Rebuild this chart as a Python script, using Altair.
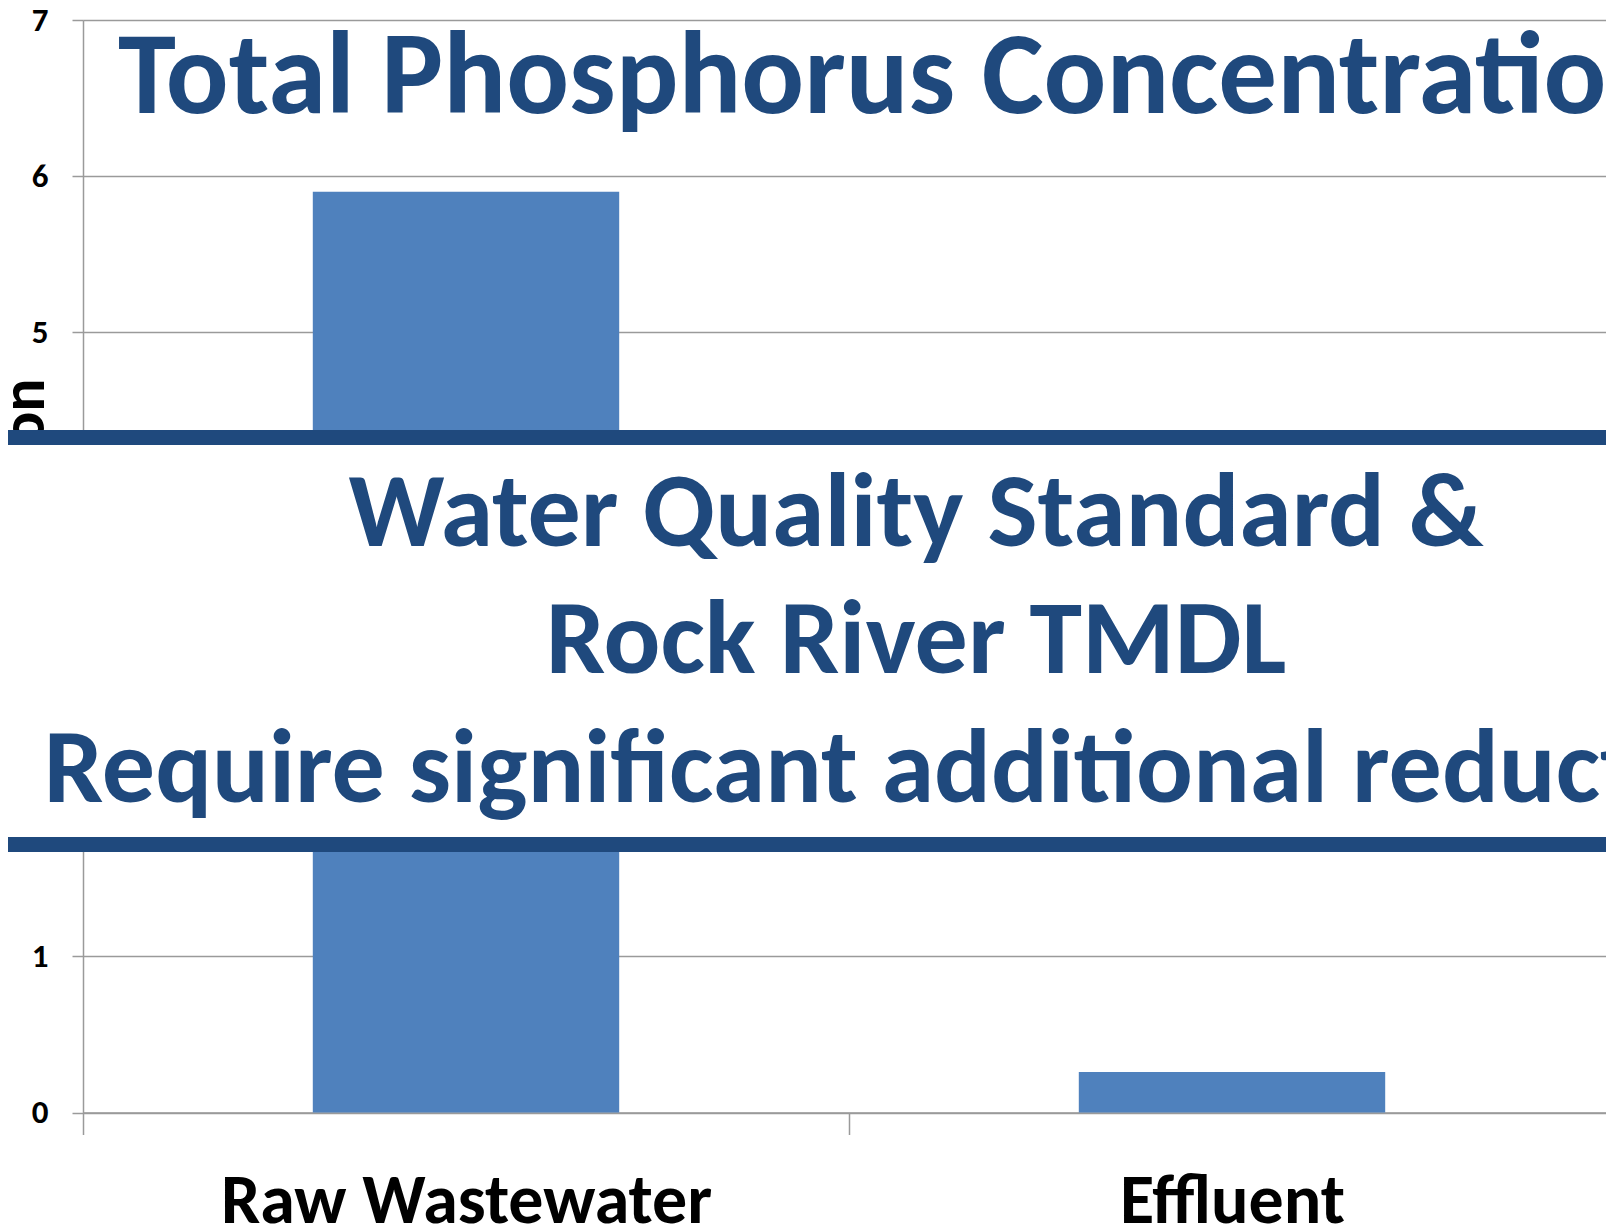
import altair as alt
import pandas as pd

# ---- data ----
categories = ["Raw Wastewater", "Effluent"]
values = [5.9, 0.26]
y_ticks = [0, 1, 2, 3, 4, 5, 6, 7]
y_title = "Concentration"
headline = ["Total Phosphorus Concentration"]
box_lines = ["Water Quality Standard &", "Rock River TMDL",
             "Require significant additional reductions"]

FONT = "Calibri, Carlito, Lato, sans-serif"
DARK = "#1F497D"
BAR = "#4F81BD"
GRID = "#9a9a9a"

df = pd.DataFrame({"category": categories, "value": values})

x = alt.X(
    "category:N", sort=categories,
    scale=alt.Scale(range=[0, 1532], paddingInner=0, paddingOuter=0),
    axis=alt.Axis(title=None, labelAngle=0, labelFont=FONT, labelFontSize=70,
                  labelFontWeight="bold", labelColor="black", labelLimit=2000,
                  labelBaseline="alphabetic", labelPadding=88,
                  tickBand="extent", tickSize=22, tickColor=GRID, tickWidth=1.5,
                  domainColor=GRID, domainWidth=1.5, grid=False),
)
y = alt.Y(
    "value:Q", scale=alt.Scale(domain=[0, 7], nice=False),
    axis=alt.Axis(values=y_ticks, format="d", title=y_title,
                  labelFont=FONT, labelFontSize=33, labelFontWeight="bold",
                  labelColor="black", labelPadding=24,
                  tickSize=11, tickColor=GRID, tickWidth=1.5,
                  domainColor=GRID, domainWidth=1.5,
                  gridColor=GRID, gridWidth=1.5,
                  titleFont=FONT, titleFontSize=62, titleFontWeight="bold",
                  titleColor="black", titleAngle=270, titleAlign="right",
                  titleBaseline="alphabetic", titleX=-40, titleY=358),
)

bars = alt.Chart(df).mark_bar(color=BAR, width=alt.RelativeBandSize(0.4)).encode(x=x, y=y)

one = pd.DataFrame({"k": [0]})
white_box = alt.Chart(one).mark_rect(color="white").encode(
    x=alt.value(-200), x2=alt.value(1700), y=alt.value(425), y2=alt.value(817))
line_top = alt.Chart(one).mark_rect(color=DARK).encode(
    x=alt.value(-200), x2=alt.value(1700), y=alt.value(410), y2=alt.value(425))
line_bot = alt.Chart(one).mark_rect(color=DARK).encode(
    x=alt.value(-200), x2=alt.value(1700), y=alt.value(817), y2=alt.value(832))

head = alt.Chart(pd.DataFrame({"t": headline})).mark_text(
    font=FONT, fontSize=117, fontWeight="bold", color=DARK,
    align="left", baseline="alphabetic").encode(
    x=alt.value(35), y=alt.value(93), text="t:N")

box_df = pd.DataFrame({"t": box_lines})
ys = [526, 653, 782]
xs = [833, 833, 848]
box_texts = []
for i, line in enumerate(box_lines):
    box_texts.append(
        alt.Chart(box_df.iloc[[i]]).mark_text(
            font=FONT, fontSize=106, fontWeight="bold", color=DARK,
            align="center", baseline="alphabetic").encode(
            x=alt.value(xs[i]), y=alt.value(ys[i]), text="t:N"))

chart = alt.layer(bars, white_box, line_top, line_bot, head, *box_texts).properties(
    width=1523, height=1092.5,
    autosize=alt.AutoSizeParams(type="none"),
    padding={"left": 75, "top": 12, "right": 0, "bottom": 111},
).configure_view(strokeWidth=0).configure(background="white")

chart.save("out.html", embed_options={"renderer": "svg", "actions": False})
